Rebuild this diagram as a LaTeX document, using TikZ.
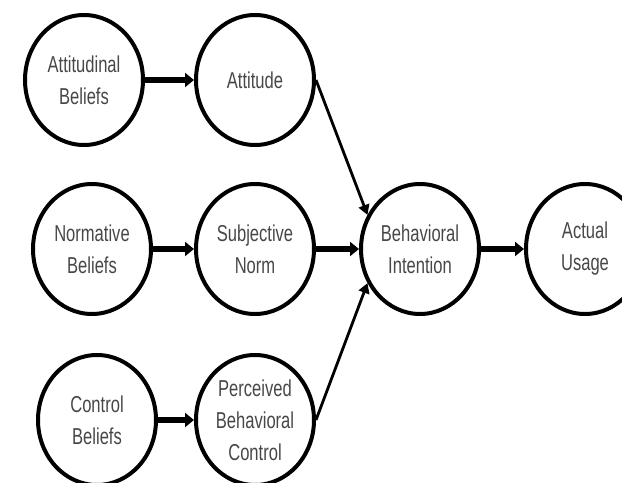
\documentclass[tikz,border=0pt]{standalone}
\usepackage{fontspec}
\newfontfamily\narrowsans[FakeStretch=0.72]{Liberation Sans}
\usetikzlibrary{arrows.meta,shapes,positioning}

\begin{document}
\begin{tikzpicture}[thick,
	bubble/.style={draw, ellipse, line width=4bp, minimum width=118bp, minimum height=130bp, inner sep=0pt, align=center, text=black!72, font=\narrowsans\fontsize{23bp}{32bp}\selectfont},
	link/.style={line width=5.5bp, -{Triangle[length=9bp, width=14bp]}},
	slant/.style={line width=2.8bp, -{Triangle[length=10bp, width=11bp]}}]
	\clip (0bp, 0bp) rectangle (622bp, -483bp);

	\node ({attb}) at (84bp, -80bp) [bubble] {Attitudinal\\Beliefs};
	\node ({att}) at (255bp, -80bp) [bubble] {Attitude};
	\node ({normb}) at (92bp, -249bp) [bubble] {Normative\\Beliefs};
	\node ({subn}) at (255bp, -249bp) [bubble] {Subjective\\Norm};
	\node ({ctrlb}) at (97bp, -420bp) [bubble] {Control\\Beliefs};
	\node ({pbc}) at (255bp, -420bp) [bubble] {Perceived\\Behavioral\\Control};
	\node ({bi}) at (420bp, -249bp) [bubble] {Behavioral\\Intention};
	\node ({use}) at (585bp, -249bp) [bubble] {Actual\\Usage};

	\draw [link] (attb) -- (att);
	\draw [link] (normb) -- (subn);
	\draw [link] (ctrlb) -- (pbc);
	\draw [link] (subn) -- (bi);
	\draw [link] (bi) -- (use);
	% the two slanted ones meet the intention from above and below
	\draw [slant] (att.east) -- (bi.147);
	\draw [slant] (pbc.east) -- (bi.213);
\end{tikzpicture}
\end{document}
